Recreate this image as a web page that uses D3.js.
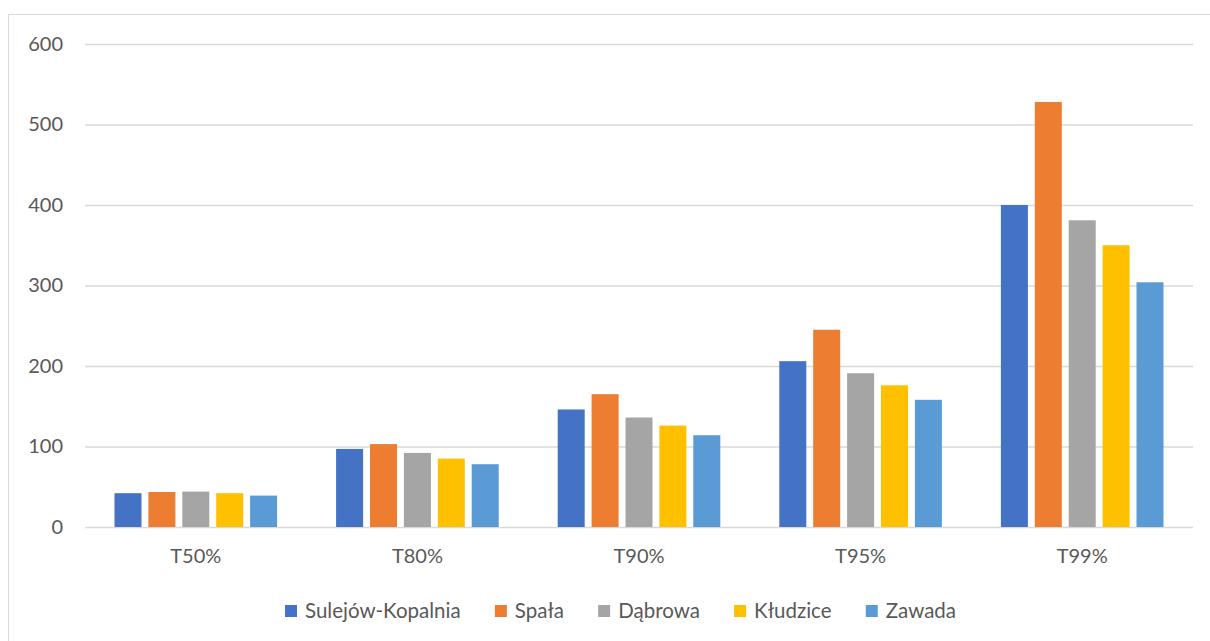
<!DOCTYPE html>
<html>
<head>
<meta charset="utf-8">
<script src="https://cdn.jsdelivr.net/npm/d3@7"></script>
<style>
  html, body { margin: 0; padding: 0; background: #fff; }
  svg { display: block; }
  text { font-family: Lato, "Open Sans", sans-serif; fill: #595959; }
</style>
</head>
<body>
<svg id="chart" width="1210" height="641"></svg>
<script>
// Return periods (probability of exceedance)
const categories = ["T50%", "T80%", "T90%", "T95%", "T99%"];

// Gauging stations
const stations = ["Sulejów-Kopalnia", "Spała", "Dąbrowa", "Kłudzice", "Zawada"];

// Values per station, one per category
const sulejowKopalnia = [42, 97, 146, 206, 400];
const spala           = [43.5, 103, 165, 245, 528];
const dabrowa         = [44, 92, 136, 191, 381];
const kludzice        = [42, 85, 126, 176, 350];
const zawada          = [39, 78, 114, 158, 304];
const seriesValues = [sulejowKopalnia, spala, dabrowa, kludzice, zawada];

const yTicks = [0, 100, 200, 300, 400, 500, 600];
const colors = ["#4472C4", "#ED7D31", "#A5A5A5", "#FFC000", "#5B9BD5"];

const svg = d3.select("#chart");
const W = 1210, H = 641;

// Outer chart frame
svg.append("rect")
  .attr("x", 8.5).attr("y", 14.5)
  .attr("width", W).attr("height", H)
  .attr("fill", "#fff").attr("stroke", "#d9d9d9").attr("stroke-width", 1);

const plot = { left: 85, right: 1193, top: 44, bottom: 527 };

const x = d3.scaleBand().domain(categories).range([plot.left, plot.right]).padding(0);
const x1 = d3.scaleBand().domain(stations).range([0, x.bandwidth()])
  .paddingInner(0.2035).paddingOuter(0.87);
const y = d3.scaleLinear().domain([0, 600]).range([plot.bottom, plot.top]);

// Horizontal gridlines
const yAxis = d3.axisLeft(y).tickValues(yTicks).tickSize(-(plot.right - plot.left)).tickPadding(22);
const gy = svg.append("g").attr("transform", `translate(${plot.left},0)`).call(yAxis);
gy.select(".domain").remove();
gy.selectAll(".tick line").attr("stroke", "#d9d9d9").attr("stroke-width", 1.4);
gy.selectAll(".tick text").attr("font-size", 20).attr("fill", "#595959")
  .attr("font-family", "Lato, 'Open Sans', sans-serif");

// Bars
const groups = svg.append("g").selectAll("g")
  .data(categories)
  .join("g")
  .attr("transform", d => `translate(${x(d)},0)`);

groups.selectAll("rect")
  .data((c, ci) => stations.map((s, si) => ({ s, si, v: seriesValues[si][ci] })))
  .join("rect")
  .attr("x", d => x1(d.s))
  .attr("width", x1.bandwidth())
  .attr("y", d => y(d.v))
  .attr("height", d => y(0) - y(d.v))
  .attr("fill", d => colors[d.si]);

// Category axis labels
const xAxis = d3.axisBottom(x).tickSize(0).tickPadding(22);
const gx = svg.append("g").attr("transform", `translate(0,${plot.bottom})`).call(xAxis);
gx.select(".domain").remove();
gx.selectAll(".tick text").attr("font-size", 20).attr("fill", "#595959")
  .attr("font-family", "Lato, 'Open Sans', sans-serif");

// Legend, laid out between fixed left and right edges
const legend = svg.append("g");
const legendY = 611;
const legendLeft = 285, legendRight = 956;
const sq = 12, gapText = 8;
const items = legend.selectAll("g").data(stations).join("g");
items.append("rect")
  .attr("width", sq).attr("height", sq)
  .attr("y", legendY - sq / 2)
  .attr("fill", (d, i) => colors[i]);
items.append("text")
  .attr("x", sq + gapText)
  .attr("y", legendY)
  .attr("dy", "0.35em")
  .attr("font-size", 20.5)
  .text(d => d);
let widths = [];
items.each(function () { widths.push(this.querySelector("text").getComputedTextLength()); });
const itemsWidth = d3.sum(widths, w => sq + gapText + w);
const gapItem = (legendRight - legendLeft - itemsWidth) / (stations.length - 1);
let cx = legendLeft;
items.attr("transform", (d, i) => {
  const t = `translate(${cx},0)`;
  cx += sq + gapText + widths[i] + gapItem;
  return t;
});
</script>
</body>
</html>
